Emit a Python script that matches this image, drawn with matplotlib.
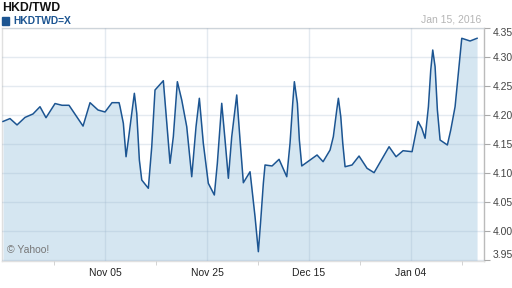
import datetime as dt
import matplotlib
matplotlib.use("Agg")
import matplotlib.pyplot as plt
import matplotlib.dates as mdates

# days after Oct 16, 2015 and HKD/TWD rate
start = dt.datetime(2015, 10, 16)
days = [0, 1.37, 2.75, 4.31, 5.88, 7.25, 8.43, 10.2, 11.57, 12.94,
        15.69, 17.06, 18.63, 20, 21.37, 22.75, 22.94, 23.59, 24.12, 24.57,
        25.24, 25.75, 26.22, 26.73, 27.2, 28.49, 29.16, 29.8, 31.43, 31.9,
        32.75, 33.39, 34.18, 35.04, 36.02, 37.0, 37.84, 38.49, 39.27, 40.25,
        41.43, 42.02, 42.88, 43.53, 44.18, 44.84, 45.82, 46.47, 47.12, 48.43,
        48.76, 49.41, 50.06, 50.53, 51.04, 51.37, 52.75, 54.12, 55.63, 56.27,
        56.8, 57.12, 57.71, 58.1, 58.57, 60.2, 61.57, 62.75, 64.12, 64.76,
        65.43, 65.75, 66.22, 66.61, 67.06, 68.43, 69.8, 71.37, 72.75, 75.69,
        77.06, 78.43, 80.2, 80.78, 81.37, 82.1, 82.75, 83.4, 83.86, 84.25,
        84.71, 85.16, 85.69, 87.12, 87.78, 88.63, 89.27, 89.94, 91.57, 92.94]
rate = [4.189, 4.194, 4.183, 4.196, 4.202, 4.2145, 4.1955, 4.220, 4.217, 4.217,
        4.181, 4.2215, 4.2088, 4.2054, 4.2215, 4.2215, 4.2145, 4.1858, 4.128, 4.1569,
        4.2031, 4.2377, 4.2031, 4.1223, 4.0877, 4.0734, 4.1453, 4.2434, 4.2595, 4.2088,
        4.1166, 4.1626, 4.2578, 4.2261, 4.1799, 4.0934, 4.1799, 4.2291, 4.1512, 4.082,
        4.0618, 4.1166, 4.2204, 4.1569, 4.0907, 4.1626, 4.2348, 4.1569, 4.083, 4.102,
        4.0761, 4.0242, 3.9637, 4.0185, 4.082, 4.1137, 4.112, 4.1235, 4.0934, 4.1512,
        4.2204, 4.2578, 4.2204, 4.1569, 4.112, 4.1223, 4.131, 4.1194, 4.1396, 4.1626,
        4.2088, 4.2291, 4.1972, 4.1512, 4.1107, 4.1137, 4.1292, 4.108, 4.1004, 4.1453,
        4.128, 4.1384, 4.1367, 4.1626, 4.189, 4.1772, 4.1599, 4.2145, 4.278, 4.3126,
        4.2837, 4.2088, 4.1569, 4.1483, 4.1742, 4.2145, 4.2723, 4.3329, 4.3282, 4.3329]
yticks = [3.95, 4.00, 4.05, 4.10, 4.15, 4.20, 4.25, 4.30, 4.35]

plt.rcParams['font.family'] = ['Liberation Sans', 'DejaVu Sans']

t0 = mdates.date2num(start)
x = [t0 + d for d in days]

fig = plt.figure(figsize=(5.12, 2.88), dpi=100)
ax = fig.add_axes([2/512, 27/288, 482/512, 232.6/288])

ax.fill_between(x, rate, 3.9, color='#d5e6f1', lw=0, zorder=1)
ax.plot(x, rate, color='#1c5592', lw=1.1, zorder=3)

ax.set_xlim(t0 - 0.2, t0 + 94.3)
ax.set_ylim(3.9476, 4.35)

major = [t0 + d for d in (20, 40, 60, 80)]
minor = [t0 + d for d in (10, 30, 50, 70, 90)]
ax.set_xticks(major)
ax.set_xticks(minor, minor=True)
ax.xaxis.set_major_formatter(mdates.DateFormatter('%b %d'))
ax.tick_params(axis='x', which='major', length=0, pad=5, labelsize=7.5, labelcolor='#222222')
ax.tick_params(axis='x', which='minor', length=3, color='#cccccc')

ax.set_yticks(yticks)
ax.set_yticklabels(['%.2f' % v for v in yticks])
ax.yaxis.tick_right()
ax.tick_params(axis='y', length=4, color='#aaaaaa', pad=2.5, labelsize=7.5, labelcolor='#444444')
ylabels = ax.get_yticklabels()
ylabels[0].set_va('bottom')
ylabels[-1].set_va('top')

ax.grid(True, which='major', color='#9fb5cc', alpha=0.28, lw=1, zorder=2)
ax.set_axisbelow(False)

for s in ['top', 'left', 'bottom']:
    ax.spines[s].set_color('#e0e0e0')
    ax.spines[s].set_linewidth(1)
ax.spines['right'].set_color('#bbbbbb')
ax.spines['right'].set_linewidth(1)

fig.text(2/512, 1 - 11/288, 'HKD/TWD', fontsize=8.8, fontweight='bold', color='#111111')
fig.patches.append(plt.Rectangle((2/512, 1 - 25/288), 7/512, 8/288, transform=fig.transFigure,
                                 color='#1c5592', figure=fig))
fig.text(13/512, 1 - 24.5/288, 'HKDTWD=X', fontsize=7.4, fontweight='bold', color='#1c5592')
fig.text(481/512, 1 - 23/288, 'Jan 15, 2016', fontsize=7.5, color='#b5b5b5', ha='right')
ax.text(t0 + 0.8, 3.962, '\u00a9 Yahoo!', fontsize=7.5, color='#777777', zorder=4)

fig.savefig('out.png', dpi=100)
